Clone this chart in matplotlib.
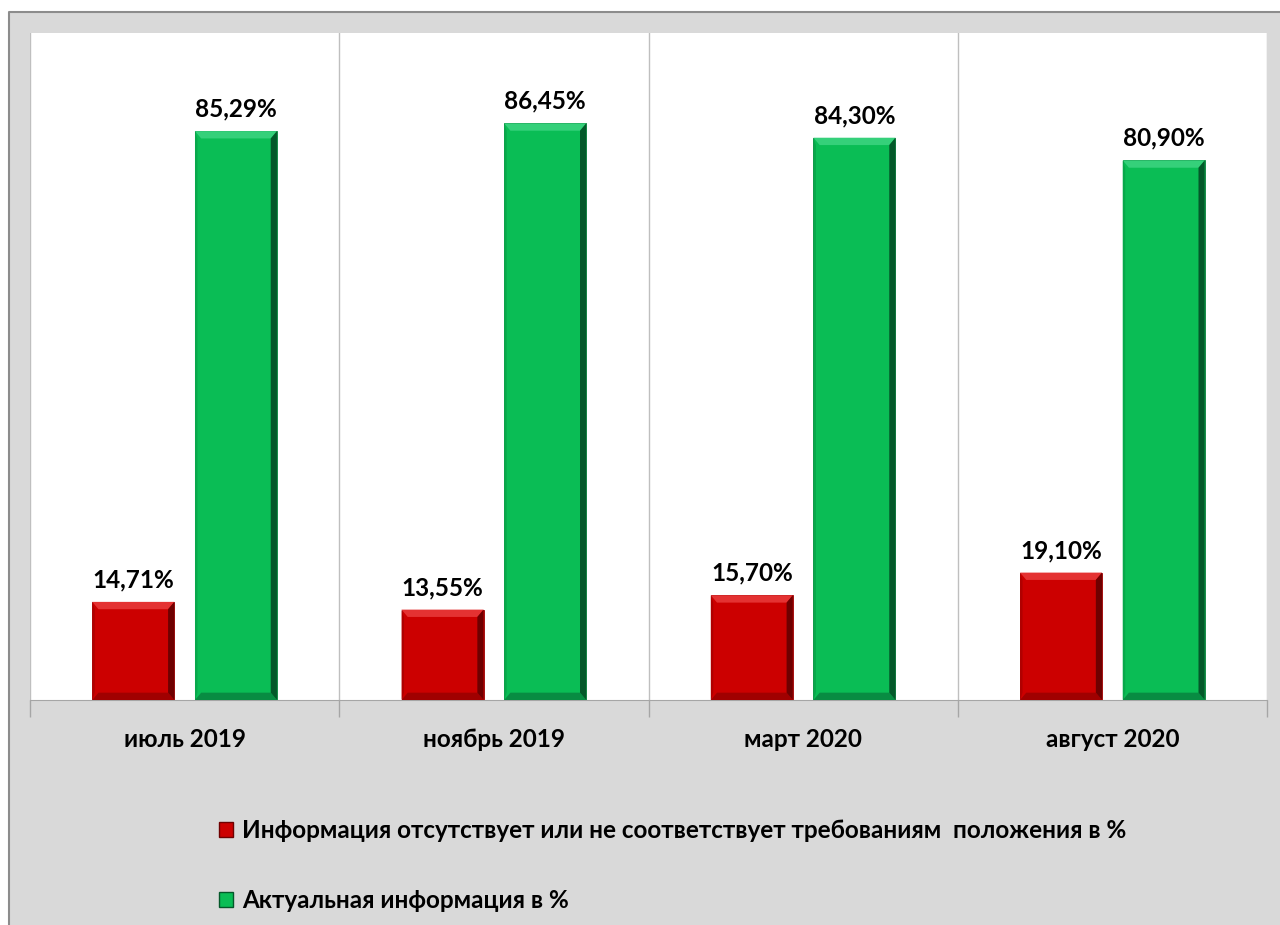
import matplotlib
matplotlib.use("Agg")
import matplotlib.pyplot as plt
import numpy as np
from matplotlib.patches import Polygon, Rectangle
from matplotlib.lines import Line2D

categories = ["июль 2019", "ноябрь 2019", "март 2020", "август 2020"]
missing = [14.71, 13.55, 15.70, 19.10]
actual = [85.29, 86.45, 84.30, 80.90]
missing_labels = ["14,71%", "13,55%", "15,70%", "19,10%"]
actual_labels = ["85,29%", "86,45%", "84,30%", "80,90%"]
legend_names = [
    "Информация отсутствует или не соответствует требованиям  положения в %",
    "Актуальная информация в %",
]

RED = "#cc0000"
GREEN = "#0abd55"
FONT = ["Lato", "DejaVu Sans"]
FS = 17.5

W, H = 1280, 925
fig = plt.figure(figsize=(12.8, 9.25), dpi=100, facecolor="white")

# grey chart area, border line only on top and left (rest is cut off)
fig.add_artist(Rectangle((9 / W, 0), 1 - 9 / W, 1 - 12 / H, transform=fig.transFigure,
                         facecolor="#d9d9d9", edgecolor="none", zorder=-10))
fig.add_artist(Line2D([9 / W, 9 / W, 1], [0, 1 - 12 / H, 1 - 12 / H], transform=fig.transFigure,
                      color="#8c8c8c", linewidth=1.5, zorder=-9))

ax = fig.add_axes([30 / W, 1 - 700 / H, (1267 - 30) / W, (700 - 33) / H])
ax.set_zorder(1)
ax.set_facecolor("white")
ax.set_xlim(-0.5, len(categories) - 0.5)
ax.set_ylim(0, 100)

x = np.arange(len(categories))
width = 0.265
off = 0.166


def bevel(rects, top_c, left_c, bottom_c, right_c):
    # fake excel-like bevel on each bar (~7px bands)
    bx, by = 0.02, 1.1
    for r in rects:
        x0, y0 = r.get_x(), r.get_y()
        x1, y1 = x0 + r.get_width(), y0 + r.get_height()
        top = [(x0, y1), (x1, y1), (x1 - bx, y1 - by), (x0 + bx, y1 - by)]
        right = [(x1, y1), (x1, y0), (x1 - bx, y0 + by), (x1 - bx, y1 - by)]
        bottom = [(x0, y0), (x1, y0), (x1 - bx, y0 + by), (x0 + bx, y0 + by)]
        left = [(x0, y0), (x0, y1), (x0 + bx * 0.4, y1 - by), (x0 + bx * 0.4, y0 + by)]
        for pts, c in [(top, top_c), (bottom, bottom_c), (left, left_c), (right, right_c)]:
            ax.add_patch(Polygon(pts, closed=True, facecolor=c, edgecolor="none", zorder=3))


b1 = ax.bar(x - off, missing, width, color=RED, edgecolor="#9a0000", linewidth=0.6, zorder=2)
b2 = ax.bar(x + off, actual, width, color=GREEN, edgecolor="#07803a", linewidth=0.6, zorder=2)
bevel(b1, "#e43232", "#b00000", "#a00000", "#6e0000")
bevel(b2, "#35d07a", "#08a84b", "#088c42", "#04582a")

for xi, v, t in zip(x - off, missing, missing_labels):
    ax.text(xi, v + 1.6, t, ha="center", va="bottom", fontsize=FS, fontweight="bold",
            family=FONT, color="black")
for xi, v, t in zip(x + off, actual, actual_labels):
    ax.text(xi, v + 1.6, t, ha="center", va="bottom", fontsize=FS, fontweight="bold",
            family=FONT, color="black")

# vertical separators between categories
for b in np.arange(-0.5, len(categories), 1.0):
    ax.axvline(b, color="#bfbfbf", linewidth=1, zorder=1)

ax.set_yticks([])
ax.set_xticks(np.arange(-0.5, len(categories), 1.0))
ax.set_xticklabels([])
ax.tick_params(axis="x", direction="out", length=12, color="#a6a6a6", width=1)
ax.set_xticks(x, minor=True)
ax.set_xticklabels(categories, minor=True, fontsize=FS, fontweight="bold", family=FONT)
ax.tick_params(axis="x", which="minor", length=0, pad=20)
for s in ["top", "right", "left"]:
    ax.spines[s].set_visible(False)
ax.spines["bottom"].set_color("#a6a6a6")

handles = [Rectangle((0, 0), 1, 1, facecolor=RED, edgecolor="#6e0000"),
           Rectangle((0, 0), 1, 1, facecolor=GREEN, edgecolor="#04582a")]
fig.legend(handles, legend_names, loc="upper left", bbox_to_anchor=(197 / W, 1 - 797 / H),
           frameon=False, handlelength=0.6, handleheight=0.6, handletextpad=0.35,
           labelspacing=1.95, prop={"family": FONT, "weight": "bold", "size": FS})

fig.savefig("out.png", dpi=100, facecolor=fig.get_facecolor())
